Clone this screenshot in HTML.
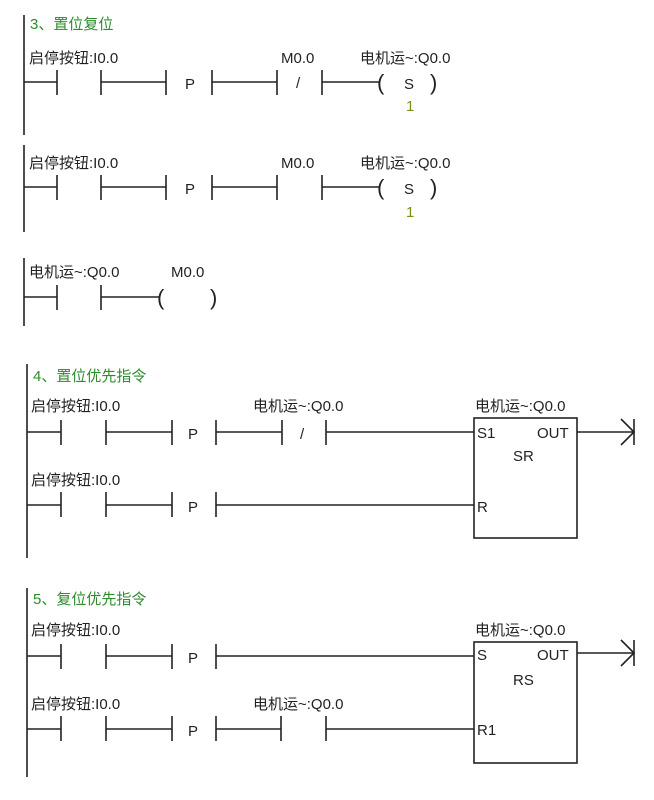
<!DOCTYPE html>
<html><head><meta charset="utf-8">
<style>
html,body{margin:0;padding:0;background:#fff;}
svg{display:block;}
text{font-family:"Liberation Sans","Noto Sans CJK SC",sans-serif;font-size:15px;fill:#222;}
.g{fill:#2e8b2e;}
.y{fill:#7a8f1a;}
.p{font-size:22px;}
</style></head><body>
<svg width="654" height="800" viewBox="0 0 654 800" xmlns="http://www.w3.org/2000/svg">
<g stroke="#222" stroke-width="1.6" fill="none">
<line x1="24" y1="15" x2="24" y2="135"/>
<line x1="24" y1="82" x2="57" y2="82"/><line x1="57" y1="70" x2="57" y2="95"/>
<line x1="101" y1="70" x2="101" y2="95"/><line x1="101" y1="82" x2="166" y2="82"/><line x1="166" y1="70" x2="166" y2="95"/>
<line x1="212" y1="70" x2="212" y2="95"/><line x1="212" y1="82" x2="277" y2="82"/><line x1="277" y1="70" x2="277" y2="95"/>
<line x1="322" y1="70" x2="322" y2="95"/><line x1="322" y1="82" x2="380" y2="82"/>
<line x1="24" y1="145" x2="24" y2="232"/>
<line x1="24" y1="187" x2="57" y2="187"/><line x1="57" y1="175" x2="57" y2="200"/>
<line x1="101" y1="175" x2="101" y2="200"/><line x1="101" y1="187" x2="166" y2="187"/><line x1="166" y1="175" x2="166" y2="200"/>
<line x1="212" y1="175" x2="212" y2="200"/><line x1="212" y1="187" x2="277" y2="187"/><line x1="277" y1="175" x2="277" y2="200"/>
<line x1="322" y1="175" x2="322" y2="200"/><line x1="322" y1="187" x2="380" y2="187"/>
<line x1="24" y1="258" x2="24" y2="326"/>
<line x1="24" y1="297" x2="57" y2="297"/><line x1="57" y1="285" x2="57" y2="310"/>
<line x1="101" y1="285" x2="101" y2="310"/><line x1="101" y1="297" x2="160" y2="297"/>
<line x1="27" y1="364" x2="27" y2="558"/>
<line x1="27" y1="432" x2="61" y2="432"/><line x1="61" y1="420" x2="61" y2="445"/>
<line x1="106" y1="420" x2="106" y2="445"/><line x1="106" y1="432" x2="172" y2="432"/><line x1="172" y1="420" x2="172" y2="445"/>
<line x1="216" y1="420" x2="216" y2="445"/><line x1="216" y1="432" x2="282" y2="432"/><line x1="282" y1="420" x2="282" y2="445"/>
<line x1="326" y1="420" x2="326" y2="445"/><line x1="326" y1="432" x2="474" y2="432"/>
<line x1="27" y1="505" x2="61" y2="505"/><line x1="61" y1="492" x2="61" y2="517"/>
<line x1="106" y1="492" x2="106" y2="517"/><line x1="106" y1="505" x2="172" y2="505"/><line x1="172" y1="492" x2="172" y2="517"/>
<line x1="216" y1="492" x2="216" y2="517"/><line x1="216" y1="505" x2="474" y2="505"/>
<rect x="474" y="418" width="103" height="120"/>
<line x1="577" y1="432" x2="634" y2="432"/>
<polyline points="621,419 634,432 621,445"/><line x1="634" y1="419" x2="634" y2="445"/>
<line x1="27" y1="588" x2="27" y2="777"/>
<line x1="27" y1="656" x2="61" y2="656"/><line x1="61" y1="644" x2="61" y2="669"/>
<line x1="106" y1="644" x2="106" y2="669"/><line x1="106" y1="656" x2="172" y2="656"/><line x1="172" y1="644" x2="172" y2="669"/>
<line x1="216" y1="644" x2="216" y2="669"/><line x1="216" y1="656" x2="474" y2="656"/>
<line x1="27" y1="729" x2="61" y2="729"/><line x1="61" y1="716" x2="61" y2="741"/>
<line x1="106" y1="716" x2="106" y2="741"/><line x1="106" y1="729" x2="172" y2="729"/><line x1="172" y1="716" x2="172" y2="741"/>
<line x1="216" y1="716" x2="216" y2="741"/><line x1="216" y1="729" x2="281" y2="729"/><line x1="281" y1="716" x2="281" y2="741"/>
<line x1="326" y1="716" x2="326" y2="741"/><line x1="326" y1="729" x2="474" y2="729"/>
<rect x="474" y="642" width="103" height="121"/>
<line x1="577" y1="653" x2="634" y2="653"/>
<polyline points="621,640 634,653 621,666"/><line x1="634" y1="640" x2="634" y2="666"/>
</g>
<text x="30" y="29" class="g">3、置位复位</text>
<text x="29" y="63">启停按钮:I0.0</text>
<text x="281" y="63">M0.0</text>
<text x="360" y="63">电机运~:Q0.0</text>
<text x="185" y="89">P</text>
<text x="296" y="88">/</text>
<text x="377" y="90" class="p">(</text>
<text x="404" y="89">S</text>
<text x="430" y="90" class="p">)</text>
<text x="406" y="111" class="y">1</text>
<text x="29" y="168">启停按钮:I0.0</text>
<text x="281" y="168">M0.0</text>
<text x="360" y="168">电机运~:Q0.0</text>
<text x="185" y="194">P</text>
<text x="377" y="195" class="p">(</text>
<text x="404" y="194">S</text>
<text x="430" y="195" class="p">)</text>
<text x="406" y="217" class="y">1</text>
<text x="29" y="277">电机运~:Q0.0</text>
<text x="171" y="277">M0.0</text>
<text x="157" y="305" class="p">(</text>
<text x="210" y="305" class="p">)</text>
<text x="33" y="381" class="g">4、置位优先指令</text>
<text x="31" y="411">启停按钮:I0.0</text>
<text x="253" y="411">电机运~:Q0.0</text>
<text x="475" y="411">电机运~:Q0.0</text>
<text x="188" y="439">P</text>
<text x="300" y="439">/</text>
<text x="477" y="438">S1</text>
<text x="537" y="438">OUT</text>
<text x="513" y="461">SR</text>
<text x="31" y="485">启停按钮:I0.0</text>
<text x="188" y="512">P</text>
<text x="477" y="512">R</text>
<text x="33" y="604" class="g">5、复位优先指令</text>
<text x="31" y="635">启停按钮:I0.0</text>
<text x="475" y="635">电机运~:Q0.0</text>
<text x="188" y="663">P</text>
<text x="477" y="660">S</text>
<text x="537" y="660">OUT</text>
<text x="513" y="685">RS</text>
<text x="31" y="709">启停按钮:I0.0</text>
<text x="253" y="709">电机运~:Q0.0</text>
<text x="188" y="736">P</text>
<text x="477" y="735">R1</text>
</svg>
</body></html>
